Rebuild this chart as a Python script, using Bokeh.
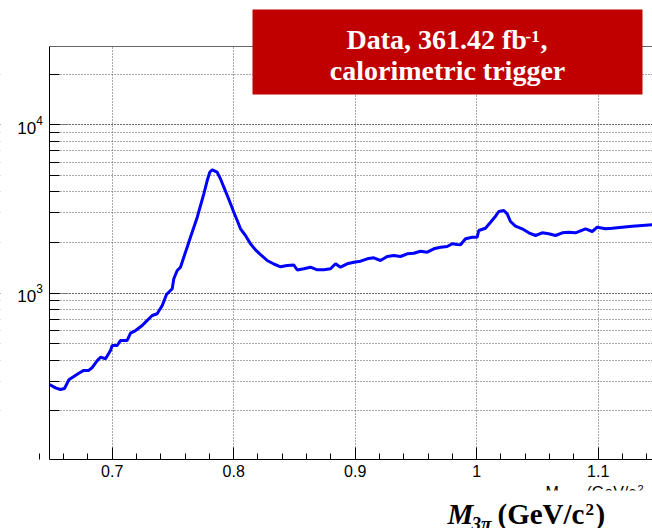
import numpy as np
from bokeh.plotting import figure
from bokeh.models import (Range1d, LinearAxis, Label, BoxAnnotation, FixedTicker,
                          LogTicker, CustomJSTickFormatter)
from bokeh.embed import file_html
from bokeh.resources import INLINE

# Three-pion invariant mass spectrum (GeV/c^2) and events per bin
mass = [0.6484, 0.6533, 0.6574, 0.6607, 0.6624, 0.6643, 0.6684, 0.6725, 0.6766, 0.6807,
        0.6835, 0.6877, 0.6904, 0.6945, 0.6986, 0.7000, 0.7041, 0.7068, 0.7123, 0.7151,
        0.7192, 0.7247, 0.7274, 0.7329, 0.7370, 0.7412, 0.7447, 0.7494, 0.7507, 0.7535,
        0.7562, 0.7589, 0.7617, 0.7644, 0.7672, 0.7700, 0.7727, 0.7754, 0.7782, 0.7803,
        0.7823, 0.7864, 0.7891, 0.7919, 0.7947, 0.7974, 0.8001, 0.8029, 0.8056, 0.8097,
        0.8138, 0.8179, 0.8221, 0.8276, 0.8330, 0.8385, 0.8440, 0.8495, 0.8523, 0.8577,
        0.8632, 0.8687, 0.8742, 0.8797, 0.8838, 0.8879, 0.8934, 0.8989, 0.9044, 0.9099,
        0.9153, 0.9208, 0.9263, 0.9318, 0.9373, 0.9428, 0.9482, 0.9537, 0.9593, 0.9647,
        0.9702, 0.9757, 0.9798, 0.9840, 0.9867, 0.9908, 0.9963, 1.0004, 1.0017, 1.0072,
        1.0114, 1.0155, 1.0182, 1.0223, 1.0251, 1.0278, 1.0319, 1.0374, 1.0429, 1.0484,
        1.0539, 1.0593, 1.0649, 1.0704, 1.0758, 1.0813, 1.0896, 1.0951, 1.0992, 1.1060,
        1.1115, 1.1198, 1.1280, 1.1362, 1.1444, 1.1500]
counts = [287, 274, 268, 272, 287, 306, 320, 335, 348, 348,
          362, 398, 417, 408, 457, 489, 489, 524, 524, 579,
          600, 643, 673, 737, 755, 845, 982, 1062, 1218, 1364,
          1427, 1636, 1876, 2150, 2466, 2827, 3317, 3893, 4669, 5230,
          5405, 5230, 4779, 4261, 3804, 3396, 3027, 2702, 2412, 2201,
          1965, 1810, 1697, 1564, 1491, 1435, 1460, 1470, 1373, 1396,
          1427, 1377, 1377, 1396, 1495, 1427, 1495, 1528, 1549, 1601,
          1623, 1564, 1652, 1675, 1652, 1714, 1728, 1776, 1752, 1835,
          1876, 1894, 1965, 1946, 1941, 2104, 2150, 2150, 2357, 2432,
          2640, 2866, 3056, 3098, 2961, 2666, 2500, 2412, 2284, 2201,
          2284, 2253, 2201, 2284, 2303, 2284, 2412, 2325, 2466, 2412,
          2432, 2466, 2500, 2523, 2547, 2550]

x_major = [0.7, 0.8, 0.9, 1.0, 1.1]
x_minor = [round(0.64 + 0.02 * i, 2) for i in range(26)]

# axis extents (data units) of the drawn frame
x_lo, x_hi = 0.6486, 1.1447
y_lo, y_hi = 103.3, 29300

W, H = 652, 528
# pixel geometry of the frame inside the canvas
FL, FT, FB = 49, 46, 459

# the plotting area covers the whole canvas; axes sit at fixed data locations
p = figure(width=W, height=H, y_axis_type="log",
           x_range=Range1d(0.608066, 1.144692), y_range=Range1d(40.07, 54715),
           output_backend="svg", toolbar_location=None,
           min_border_left=0, min_border_right=0,
           min_border_top=0, min_border_bottom=0)
p.outline_line_color = None
p.background_fill_color = "white"
p.border_fill_color = "white"

# dotted grid
p.xgrid.grid_line_color = "#555555"
p.xgrid.grid_line_dash = "1 2"
p.xgrid.ticker = FixedTicker(ticks=x_major)
p.ygrid.grid_line_color = "#555555"
p.ygrid.grid_line_dash = "1 2"
p.ygrid.minor_grid_line_color = "#555555"
p.ygrid.minor_grid_line_dash = "1 2"


def sx(px):
    return px


def sy(py):
    return H - py


def screen_box(l, r, t, b, color, level):
    return BoxAnnotation(left=sx(l), right=sx(r), top=sy(t), bottom=sy(b),
                         left_units="screen", right_units="screen",
                         top_units="screen", bottom_units="screen",
                         fill_color=color, fill_alpha=1.0, line_color=None,
                         level=level)


def text(s, px, base, size, font, style, color, align="left"):
    # base is the pixel row of the text baseline, measured from the top
    return Label(x=sx(px), y=sy(base - 0.27 * size), text=s, text_align=align,
                 text_baseline="alphabetic", x_units="screen", y_units="screen",
                 text_font=font, text_font_style=style, text_color=color,
                 text_font_size=f"{size}px")


# blank margins around the frame (hide grid lines outside it)
p.add_layout(screen_box(0, FL, 0, H, "white", "underlay"))
p.add_layout(screen_box(0, W, 0, FT, "white", "underlay"))
p.add_layout(screen_box(0, W, FB, H, "white", "underlay"))

# x axis: inward ticks, plain numeric labels
xa = p.xaxis[0]
xa.fixed_location = y_lo
xa.bounds = (x_lo, x_hi)
xa.ticker = FixedTicker(ticks=x_major, minor_ticks=x_minor)
xa.formatter = CustomJSTickFormatter(code="return tick.toFixed(1).replace(/\\.0$/, '');")
xa.major_tick_in = 12
xa.major_tick_out = 0
xa.minor_tick_in = 6
xa.minor_tick_out = 0
xa.major_label_standoff = 6
xa.axis_line_color = "black"
xa.major_tick_line_color = "black"
xa.minor_tick_line_color = "black"
xa.major_label_text_font = "Liberation Sans"
xa.major_label_text_font_size = "16px"
xa.major_label_text_color = "black"

# y axis: logarithmic, decades labelled
ya = p.yaxis[0]
ya.fixed_location = x_lo
ya.bounds = (y_lo, y_hi)
ya.ticker = LogTicker(num_minor_ticks=10)
ya.major_tick_in = 19
ya.major_tick_out = 0
ya.minor_tick_in = 10
ya.minor_tick_out = 0
ya.major_label_standoff = 7
ya.axis_line_color = "black"
ya.major_tick_line_color = "#777777"
ya.minor_tick_line_color = "black"
ya.major_label_text_font = "Liberation Sans"
ya.major_label_text_font_size = "17px"
ya.major_label_text_color = "black"

# frame top edge
top_axis = LinearAxis(ticker=FixedTicker(ticks=[]), axis_line_color="#666666",
                      major_tick_line_color=None, minor_tick_line_color=None,
                      major_label_text_font_size="0px",
                      fixed_location=y_hi, bounds=(x_lo, x_hi))
p.add_layout(top_axis, "above")

p.line(mass, counts, line_color="#0000ff", line_width=3)

# luminosity banner
p.add_layout(screen_box(252, 642, 9, 94, "#c00000", "annotation"))
SERIF = "Liberation Serif"
p.add_layout(text("Data, 361.42 fb", 346, 47, 28, SERIF, "bold", "white"))
p.add_layout(text("-1", 525, 41, 17, SERIF, "bold", "white"))
p.add_layout(text(",", 540, 47, 28, SERIF, "bold", "white"))
p.add_layout(text("calorimetric trigger", 447, 78, 28, SERIF, "bold", "white", "center"))

# axis title (small, mostly hidden) and the large title below it
SANS = "Liberation Sans"
p.add_layout(text("M", 545, 496, 16, SANS, "normal", "black"))
p.add_layout(text("(GeV/c", 586, 496, 16, SANS, "normal", "black"))
p.add_layout(text("2", 637, 491, 11, SANS, "normal", "black"))
p.add_layout(screen_box(420, W, 490, H, "white", "annotation"))

p.add_layout(text("M", 447, 521, 29, SERIF, "bold italic", "black"))
p.add_layout(text("3π", 471, 528, 19, SERIF, "bold italic", "black"))
p.add_layout(text("(GeV/c", 497, 521, 29, SERIF, "bold", "black"))
p.add_layout(text("2", 585, 514, 17, SERIF, "bold", "black"))
p.add_layout(text(")", 595, 521, 29, SERIF, "bold", "black"))

open("out.html", "w").write(file_html(p, INLINE))
